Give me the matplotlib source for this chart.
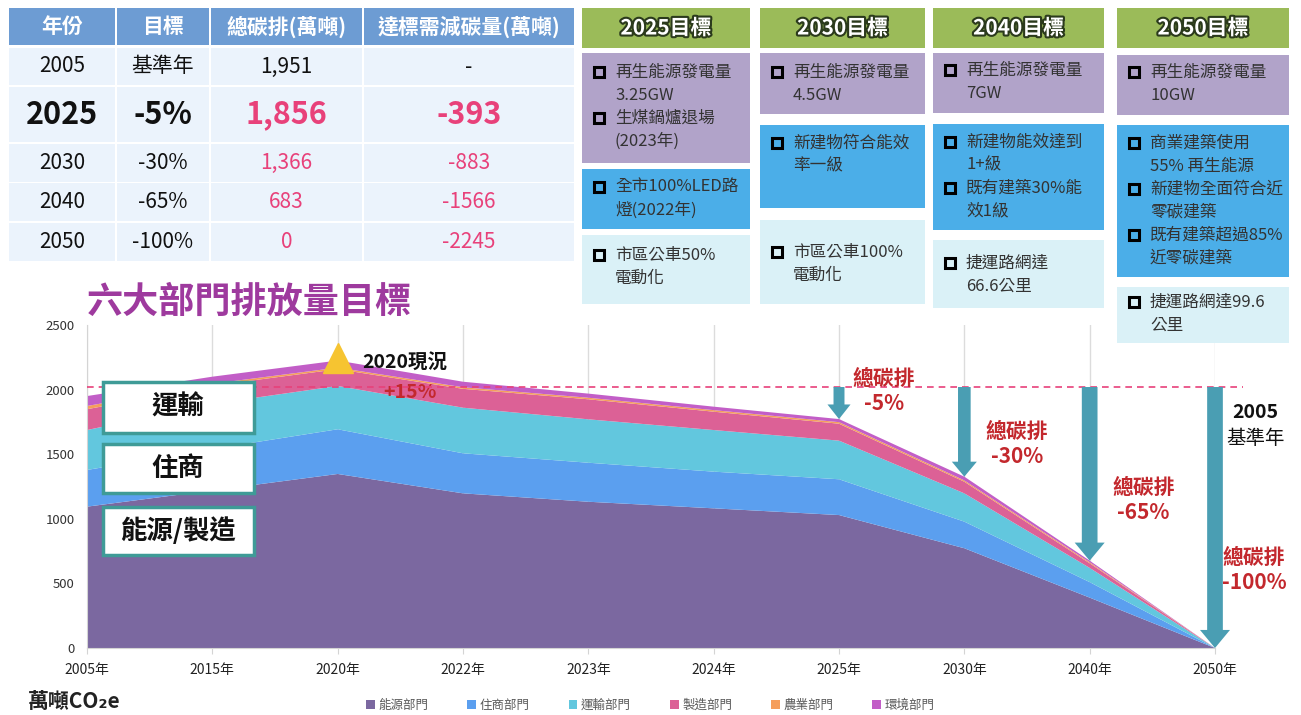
import matplotlib.pyplot as plt
from matplotlib.patches import Rectangle
import matplotlib.patheffects as pe

plt.rcParams['font.family'] = ['Noto Sans CJK TC', 'DejaVu Sans']

# chart data (萬噸CO2e)
years = ['2005年', '2015年', '2020年', '2022年', '2023年', '2024年', '2025年', '2030年', '2040年', '2050年']
sectors = ['能源部門', '住商部門', '運輸部門', '製造部門', '農業部門', '環境部門']
energy = [1094, 1220, 1347, 1197, 1132, 1081, 1029, 772, 390, 0]
resid = [284, 320, 346, 310, 302, 284, 277, 206, 120, 0]
transport = [309, 350, 335, 353, 336, 322, 299, 219, 110, 0]
manuf = [161, 140, 130, 146, 155, 142, 131, 90, 36, 0]
agri = [25, 15, 12, 12, 12, 12, 12, 10, 8, 0]
env = [77, 55, 55, 43, 32, 27, 24, 29, 12, 0]
base_2005 = 1951
ref_line = 2020
growth_2020 = 0.15

# summary table
table_header = ['年份', '目標', '總碳排(萬噸)', '達標需減碳量(萬噸)']
table_years = ['2005', '2025', '2030', '2040', '2050']
table_targets = ['基準年', '-5%', '-30%', '-65%', '-100%']
table_totals = ['1,951', '1,856', '1,366', '683', '0']
table_reduce = ['-', '-393', '-883', '-1566', '-2245']

# goal panels
panel_titles = ['2025目標', '2030目標', '2040目標', '2050目標']
panel_items = [
    [[('再生能源發電量', True), ('3.25GW', False), ('生煤鍋爐退場', True), ('(2023年)', False)],
     [('全市100%LED路', True), ('燈(2022年)', False)],
     [('市區公車50%', True), ('電動化', False)]],
    [[('再生能源發電量', True), ('4.5GW', False)],
     [('新建物符合能效', True), ('率一級', False)],
     [('市區公車100%', True), ('電動化', False)]],
    [[('再生能源發電量', True), ('7GW', False)],
     [('新建物能效達到', True), ('1+級', False), ('既有建築30%能', True), ('效1級', False)],
     [('捷運路網達', True), ('66.6公里', False)]],
    [[('再生能源發電量', True), ('10GW', False)],
     [('商業建築使用', True), ('55% 再生能源', False), ('新建物全面符合近', True), ('零碳建築', False),
      ('既有建築超過85%', True), ('近零碳建築', False)],
     [('捷運路網達99.6', True), ('公里', False)]],
]
target_labels = ['總碳排\n-5%', '總碳排\n-30%', '總碳排\n-65%', '總碳排\n-100%']

colors = ['#7B68A0', '#5B9FEF', '#62C7DE', '#DC6196', '#F59E5B', '#C25EC7']
teal = '#4A9EB3'
red = '#C3282D'
pink = '#E8417A'

fig = plt.figure(figsize=(13.01, 7.15), dpi=100)
ax = fig.add_axes([87 / 1301, 67 / 715, 1128 / 1301, 323 / 715])
x = list(range(len(years)))
polys = ax.stackplot(x, energy, resid, transport, manuf, agri, env,
                     colors=colors, labels=sectors, lw=0)
ax.set_xlim(0, len(years) - 1)
ax.set_ylim(0, 2500)
ax.set_xticks(x, years)
ax.set_yticks(range(0, 2501, 500))
ax.set_axisbelow(True)
ax.grid(axis='x', color='#dcdcdc', lw=1)
for s in ['top', 'right']:
    ax.spines[s].set_visible(False)
for s in ['left', 'bottom']:
    ax.spines[s].set_color('#d4d4d4')
ax.tick_params(axis='y', length=0, pad=9, labelsize=9.5, labelcolor='#333333')
ax.tick_params(axis='x', length=4, color='#d4d4d4', pad=7, labelsize=10, labelcolor='#222222')

# 2005 baseline reference line
ax.plot([0, len(years) - 1 + 0.22], [ref_line, ref_line], ls=(0, (4, 3)),
        color=pink, lw=1.2, clip_on=False, zorder=4)

totals = [sum(v) for v in zip(energy, resid, transport, manuf, agri, env)]

# reduction arrows
arrow_sizes = [(7.9, 16.6, 10.5), (9.1, 18.0, 10.8), (11.3, 21.6, 13.0), (11.3, 21.6, 13.0)]
arrow_idx = [6, 7, 8, 9]
for i, (tw, hw, hl) in zip(arrow_idx, arrow_sizes):
    ax.annotate('', xy=(i, totals[i]), xytext=(i, ref_line), annotation_clip=False,
                arrowprops=dict(arrowstyle=f'simple,head_length={hl},head_width={hw},tail_width={tw}',
                                color=teal, lw=0, shrinkA=0, shrinkB=0, mutation_scale=1),
                zorder=5)

label_pos = [(6.36, 1990), (7.42, 1579), (8.43, 1146), (9.31, 604)]
for (lx, ly), t in zip(label_pos, target_labels):
    ax.text(lx, ly, t, ha='center', va='center', fontsize=15, weight='bold',
            color=red, linespacing=1.25, clip_on=False, zorder=6)
ax.text(9.32, 1826, '2005', ha='center', va='center', fontsize=14, weight='bold', color='#111111')
ax.text(9.32, 1625, '基準年', ha='center', va='center', fontsize=14, color='#111111')

# 2020 status
ax.plot(2, base_2005 * (1 + growth_2020), marker='^', ms=22, color='#F6C431',
        clip_on=False, zorder=6)
ax.text(2.2, 2214, '2020現況', ha='left', va='center', fontsize=14, weight='bold', color='#111111')
ax.text(2.58, 1974, f'+{growth_2020:.0%}', ha='center', va='center', fontsize=14,
        weight='bold', color=red)

ax.legend(loc='center', bbox_to_anchor=(0.5, 0.013), bbox_transform=fig.transFigure,
          ncol=6, frameon=False, fontsize=9, labelcolor='#595959', handlelength=0.7,
          handleheight=0.7, handletextpad=0.3, columnspacing=3.1)

# overlay in pixel coordinates
ov = fig.add_axes([0, 0, 1, 1])
ov.set_xlim(0, 1301)
ov.set_ylim(715, 0)
ov.axis('off')

ov.text(87, 302, '六大部門排放量目標', fontsize=26, weight='bold', color='#9E3A9E', va='center')
ov.text(28, 701, '萬噸CO₂e', fontsize=15, weight='bold', color='#222222', va='center')

for (y0, y1), t in zip([(382, 433), (444, 493), (507, 555)], ['運輸', '住商', '能源/製造']):
    ov.add_patch(Rectangle((103, y0), 151, y1 - y0, fc='white', ec='#3F9B97', lw=2.5))
    ov.text(178, (y0 + y1) / 2, t, ha='center', va='center', fontsize=19, weight='bold',
            color='#111111')

# table
col_edges = [8, 116, 210, 363, 575]
row_edges = [(8, 45), (48, 85), (87, 142), (144, 182), (183, 221), (223, 261)]
for c in range(4):
    c0, c1 = col_edges[c], col_edges[c + 1]
    for r, (y0, y1) in enumerate(row_edges):
        fc = '#6D9CD3' if r == 0 else '#EBF3FC'
        ov.add_patch(Rectangle((c0 + 1, y0), c1 - c0 - 2, y1 - y0, fc=fc, lw=0))
    ov.text((c0 + c1) / 2, sum(row_edges[0]) / 2, table_header[c], ha='center', va='center',
            fontsize=15, weight='bold', color='white')
for r, row in enumerate(zip(table_years, table_targets, table_totals, table_reduce)):
    y0, y1 = row_edges[r + 1]
    big = table_years[r] == '2025'
    for c, val in enumerate(row):
        col = '#111111' if (c < 2 or r == 0) else pink
        ov.text((col_edges[c] + col_edges[c + 1]) / 2, (y0 + y1) / 2, val, ha='center',
                va='center', fontsize=22 if big else 15, weight='bold' if big else 'normal',
                color=col)

# goal panels
panel_x = [(582, 750), (760, 925), (933, 1104), (1117, 1289)]
panel_boxes = [
    [(53, 163, 72), (169, 229, 187), (235, 304, 255)],
    [(53, 114, 72), (125, 208, 143), (220, 304, 252)],
    [(53, 113, 70), (124, 230, 142), (240, 308, 263)],
    [(55, 115, 72), (125, 277, 143), (287, 343, 302)],
]
box_colors = ['#B1A3C9', '#4BAEE8', '#DAF1F7']
for (x0, x1), title, boxes, items in zip(panel_x, panel_titles, panel_boxes, panel_items):
    ov.add_patch(Rectangle((x0, 8), x1 - x0, 40, fc='#9BBB59', lw=0))
    ov.text((x0 + x1) / 2, 28, title, ha='center', va='center', fontsize=15, weight='bold',
            color='white', path_effects=[pe.withStroke(linewidth=3, foreground='#2b3a1c')])
    for (y0, y1, ly), fc, lines in zip(boxes, box_colors, items):
        ov.add_patch(Rectangle((x0, y0), x1 - x0, y1 - y0, fc=fc, lw=0))
        for k, (t, bullet) in enumerate(lines):
            yy = ly + k * 23
            if bullet:
                ov.add_patch(Rectangle((x0 + 12, yy - 5), 10, 10, fill=False, ec='black', lw=2.2))
            ov.text(x0 + 33, yy, t, ha='left', va='center', fontsize=12, color='#333333')

fig.savefig('out.png', dpi=100)
